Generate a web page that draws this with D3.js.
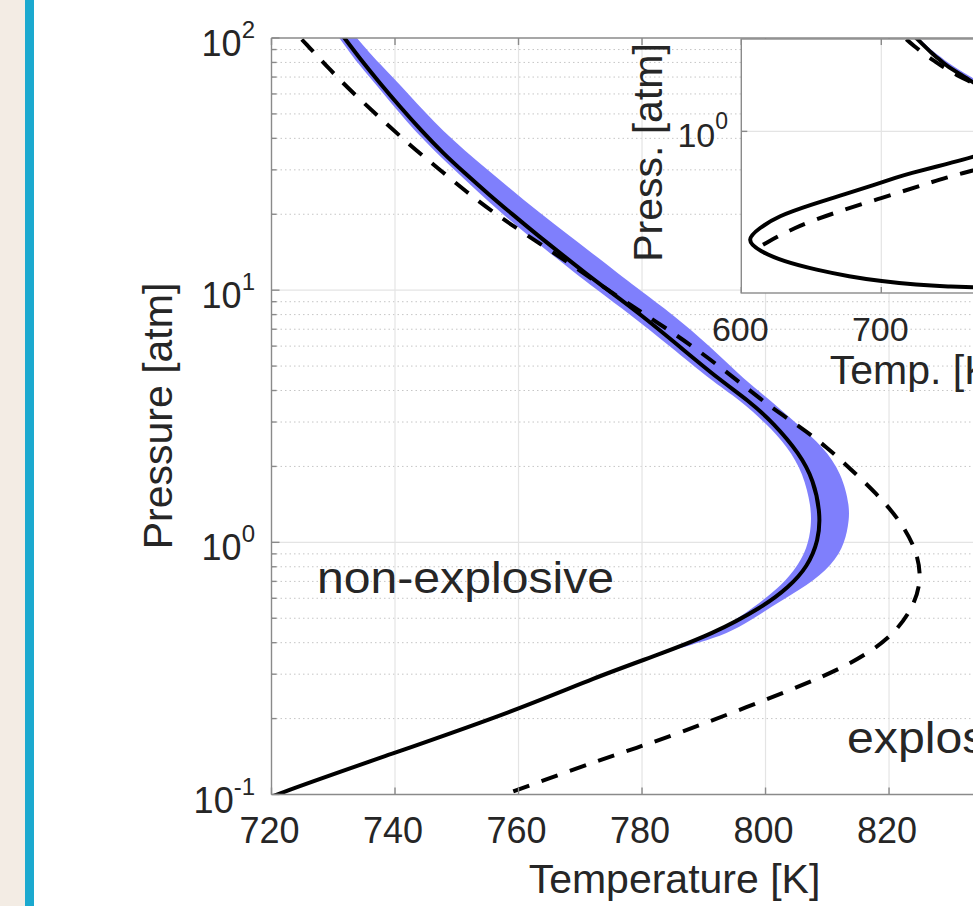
<!DOCTYPE html>
<html>
<head>
<meta charset="utf-8">
<script src="https://cdn.jsdelivr.net/npm/d3@7"></script>
<style>
  html, body { margin: 0; padding: 0; background: #fff; overflow: hidden; }
  svg { display: block; }
  text { font-family: "Liberation Sans", Arial, Helvetica, sans-serif; fill: #262626; }
</style>
</head>
<body>
<svg id="chart" width="973" height="906"></svg>
<script>
// ---- Explosion-limit data (pressure in atm, temperature in K) ----

// Solid limit curve: first limit -> nose -> second limit -> third limit
const solidP = [1.5e-4, 1.95e-4, 2.0e-4, 2.2e-4, 2.7e-4, 3.5e-4, 5.0e-4, 8.0e-4, 1.4e-3, 2.6e-3,
  5.0e-3, 9.5e-3, 0.018, 0.031, 0.054, 0.08, 0.1, 0.145, 0.215, 0.292, 0.361, 0.434, 0.553, 0.665,
  0.80, 1.02, 1.30, 1.76, 2.25, 2.97, 3.66, 4.4, 6.0, 8.0, 10, 11.7, 14.0, 16.5, 19.9, 24.2,
  29.0, 34.9, 43.1, 53.4, 66, 81.8, 100, 170];
const solidT = [850, 765.5, 748.9, 725, 700, 677, 654, 630, 613, 603,
  613, 626, 650, 673, 695.5, 711, 720.5, 739.5, 759.5, 772.5, 783, 791.5, 799.5, 803.8,
  806.8, 808.6, 808.9, 807.8, 805.5, 801.3, 797.2, 792.6, 786.0, 779.8, 774.5, 770.8, 766.8, 763.1, 759.1, 755.0,
  751.4, 747.8, 744.2, 740.8, 737.6, 734.5, 731.8, 724.8];

// Dashed limit curve: nose -> second limit -> third limit
const dashedP = [2.0e-3, 5.0e-3, 0.0113, 0.0257, 0.059, 0.08, 0.1, 0.139, 0.164, 0.222, 0.30, 0.36, 0.43,
  0.55, 0.71, 0.93, 1.22, 1.56, 1.96, 2.39, 2.87, 3.44, 4.2, 6.0, 8.0, 10, 13, 16.7, 20.1, 24.5,
  30.4, 37.6, 47, 58.9, 74.6, 93.8, 100, 170];
const dashedT = [615.5, 637, 665.5, 700, 734, 746.9, 757.8, 773.8, 782.9, 797, 810.5, 816.4, 820.7,
  823.9, 825.3, 824.5, 821.8, 818.0, 813.7, 809.9, 805.6, 800.8, 796.4, 788.3, 780.5, 774.5, 767.8, 761.1, 756.2, 751.6,
  747.0, 742.4, 738.1, 733.7, 729.5, 725.8, 724.6, 716.5];

// Uncertainty band around the solid curve
const bandP  = [0.37, 0.40, 0.434, 0.49, 0.55, 0.65, 0.77, 0.95, 1.16, 1.38, 1.88, 2.39, 2.96, 3.66, 4.4,
  6, 8, 10, 14, 20, 30, 43, 60, 80, 100, 170];
const bandLo = [783.8, 787.6, 791.0, 795.0, 798.0, 801.8, 804.7, 806.8, 807.4, 807.4, 806.1, 803.6, 800.1, 795.9, 791.1,
  784.5, 778.1, 772.7, 765.1, 757.3, 749.6, 743.0, 738.2, 733.8, 731.0, 724.1];
const bandHi = [784.6, 789.2, 793.8, 797.6, 800.7, 805.6, 809.9, 812.6, 813.4, 813.7, 812.3, 809.4, 805.0, 800.8, 796.6,
  791.0, 785.0, 779.6, 772.0, 763.6, 755.0, 747.5, 742.2, 737.3, 733.7, 726.4];

// Axis ticks
const xTicks = [720, 740, 760, 780, 800, 820, 840];
const yTicks = [0.1, 1, 10, 100];
const yTickExp = ["-1", "0", "1", "2"];
const insetXTicks = [600, 700, 800];
const insetYTicks = [1];
const insetYTickExp = ["0"];

const rows = (P, T) => P.map((p, i) => ({ p, t: T[i] }));
const solid = rows(solidP, solidT);
const dashed = rows(dashedP, dashedT);
const band = bandP.map((p, i) => ({ p, lo: bandLo[i], hi: bandHi[i] }));

const W = 973, H = 906;
const svg = d3.select("#chart");
const AXIS = "#8a8a8a", GRID = "#e4e4e4", MINOR = "#c6c6c6";

svg.append("rect").attr("width", W).attr("height", H).attr("fill", "#fff");
// page margin strip
svg.append("rect").attr("x", 0).attr("y", 0).attr("width", 25).attr("height", H).attr("fill", "#f3ece4");
svg.append("rect").attr("x", 25).attr("y", 0).attr("width", 9).attr("height", H).attr("fill", "#1ba9cf");

// ---------------- main axes ----------------
const M = { left: 271.5, right: 1074.3, top: 38, bottom: 794.5 };
const x = d3.scaleLinear().domain([720, 850]).range([M.left, M.right]);
const y = d3.scaleLog().domain([0.1, 100]).range([M.bottom, M.top]);

const isDecade = v => Math.abs(Math.log10(v) - Math.round(Math.log10(v))) < 1e-6;
const minorY = y.ticks().filter(v => !isDecade(v));

const grid = svg.append("g");
grid.selectAll("line.minor").data(minorY).join("line")
  .attr("x1", M.left).attr("x2", M.right)
  .attr("y1", d => y(d)).attr("y2", d => y(d))
  .attr("stroke", MINOR).attr("stroke-width", 1).attr("stroke-dasharray", "1.5,3");
grid.selectAll("line.hmaj").data(yTicks.slice(1, -1)).join("line")
  .attr("x1", M.left).attr("x2", M.right)
  .attr("y1", d => y(d)).attr("y2", d => y(d))
  .attr("stroke", GRID).attr("stroke-width", 1.2);
grid.selectAll("line.vmaj").data(xTicks.slice(1)).join("line")
  .attr("x1", d => x(d)).attr("x2", d => x(d))
  .attr("y1", M.top).attr("y2", M.bottom)
  .attr("stroke", GRID).attr("stroke-width", 1.2);

svg.append("clipPath").attr("id", "clipMain").append("rect")
  .attr("x", M.left).attr("y", M.top).attr("width", M.right - M.left).attr("height", M.bottom - M.top);

// band, solid limit and dashed limit for a pair of scales
function drawCurves(g, sx, sy) {
  const area = d3.area().y(d => sy(d.p)).x0(d => sx(d.lo)).x1(d => sx(d.hi)).curve(d3.curveBasis);
  const line = d3.line().x(d => sx(d.t)).y(d => sy(d.p)).curve(d3.curveBasis);
  g.append("path").datum(band).attr("d", area).attr("fill", "#7f7ffc").attr("stroke", "none");
  g.append("path").datum(solid).attr("d", line).attr("fill", "none")
    .attr("stroke", "#000").attr("stroke-width", 4).attr("stroke-linejoin", "round");
  g.append("path").datum(dashed).attr("d", line).attr("fill", "none")
    .attr("stroke", "#000").attr("stroke-width", 4).attr("stroke-dasharray", "17,13");
}
drawCurves(svg.append("g").attr("clip-path", "url(#clipMain)"), x, y);

// frame and ticks
const frame = svg.append("g").attr("stroke", AXIS).attr("stroke-width", 1.4);
frame.append("line").attr("x1", M.left).attr("x2", M.left).attr("y1", M.top).attr("y2", M.bottom);
frame.append("line").attr("x1", M.left).attr("x2", M.right).attr("y1", M.bottom).attr("y2", M.bottom);
frame.append("line").attr("x1", M.left).attr("x2", M.right).attr("y1", M.top).attr("y2", M.top);
frame.selectAll("line.xb").data(xTicks).join("line")
  .attr("x1", d => x(d)).attr("x2", d => x(d)).attr("y1", M.bottom).attr("y2", M.bottom - 7);
frame.selectAll("line.xt").data(xTicks).join("line")
  .attr("x1", d => x(d)).attr("x2", d => x(d)).attr("y1", M.top).attr("y2", M.top + 7);
frame.selectAll("line.yM").data(yTicks).join("line")
  .attr("x1", M.left).attr("x2", M.left + 8).attr("y1", d => y(d)).attr("y2", d => y(d));
frame.selectAll("line.ym").data(minorY).join("line")
  .attr("x1", M.left).attr("x2", M.left + 5).attr("y1", d => y(d)).attr("y2", d => y(d));

// tick labels
svg.append("g").selectAll("text").data(xTicks).join("text")
  .attr("x", d => x(d) - 2).attr("y", 843).attr("text-anchor", "middle")
  .attr("font-size", 36).text(d => d);
yTicks.forEach((t, i) => {
  const lab = svg.append("text").attr("x", 255).attr("y", y(t) + 18)
    .attr("text-anchor", "end").attr("font-size", 36);
  lab.append("tspan").text("10");
  lab.append("tspan").attr("dy", -18).attr("font-size", 24).text(yTickExp[i]);
});

// axis titles
svg.append("text").attr("x", 674.5).attr("y", 893).attr("text-anchor", "middle")
  .attr("font-size", 41).text("Temperature [K]");
svg.append("text").attr("transform", "translate(172,416) rotate(-90)")
  .attr("text-anchor", "middle").attr("font-size", 41).text("Pressure [atm]");

// region annotations
svg.append("text").attr("x", 317).attr("y", 593).attr("font-size", 44)
  .attr("textLength", 297).attr("lengthAdjust", "spacingAndGlyphs")
  .attr("fill", "#111").text("non-explosive");
svg.append("text").attr("x", 847).attr("y", 753).attr("font-size", 44)
  .attr("textLength", 201).attr("lengthAdjust", "spacingAndGlyphs")
  .attr("fill", "#111").text("explosive");

// ---------------- inset axes ----------------
const I = { left: 741.3, right: 1091.3, top: 39, bottom: 293 };
const xi = d3.scaleLinear().domain([600, 850]).range([I.left, I.right]);
const yi = d3.scaleLog().domain([Math.pow(10, -3.85), Math.pow(10, 2.2)]).range([I.bottom, I.top]);

svg.append("rect").attr("x", I.left).attr("y", I.top)
  .attr("width", I.right - I.left).attr("height", I.bottom - I.top).attr("fill", "#fff");
const igrid = svg.append("g").attr("stroke", GRID).attr("stroke-width", 1.2);
igrid.selectAll("line.v").data(insetXTicks.slice(1)).join("line")
  .attr("x1", d => xi(d)).attr("x2", d => xi(d)).attr("y1", I.top).attr("y2", I.bottom);
igrid.selectAll("line.h").data(insetYTicks).join("line")
  .attr("x1", I.left).attr("x2", I.right).attr("y1", d => yi(d)).attr("y2", d => yi(d));

svg.append("clipPath").attr("id", "clipInset").append("rect")
  .attr("x", I.left).attr("y", I.top).attr("width", I.right - I.left).attr("height", I.bottom - I.top);
drawCurves(svg.append("g").attr("clip-path", "url(#clipInset)"), xi, yi);

const iframe = svg.append("g").attr("stroke", AXIS).attr("stroke-width", 1.4).attr("fill", "none");
iframe.append("rect").attr("x", I.left).attr("y", I.top)
  .attr("width", I.right - I.left).attr("height", I.bottom - I.top);
iframe.selectAll("line.xb").data(insetXTicks).join("line")
  .attr("x1", d => xi(d)).attr("x2", d => xi(d)).attr("y1", I.bottom).attr("y2", I.bottom - 6);
iframe.selectAll("line.xt").data(insetXTicks).join("line")
  .attr("x1", d => xi(d)).attr("x2", d => xi(d)).attr("y1", I.top).attr("y2", I.top + 6);
iframe.selectAll("line.y").data(insetYTicks).join("line")
  .attr("x1", I.left).attr("x2", I.left + 6).attr("y1", d => yi(d)).attr("y2", d => yi(d));

svg.append("g").selectAll("text").data(insetXTicks).join("text")
  .attr("x", d => xi(d) - 1).attr("y", 341).attr("text-anchor", "middle")
  .attr("font-size", 34).text(d => d);
insetYTicks.forEach((t, i) => {
  const lab = svg.append("text").attr("x", 728).attr("y", yi(t) + 16)
    .attr("text-anchor", "end").attr("font-size", 34);
  lab.append("tspan").text("10");
  lab.append("tspan").attr("dy", -18).attr("font-size", 23).text(insetYTickExp[i]);
});
svg.append("text").attr("x", (I.left + I.right) / 2).attr("y", 384).attr("text-anchor", "middle")
  .attr("font-size", 41).text("Temp. [K]");
svg.append("text").attr("transform", "translate(662,152.5) rotate(-90)")
  .attr("text-anchor", "middle").attr("font-size", 41).text("Press. [atm]");
</script>
</body>
</html>
